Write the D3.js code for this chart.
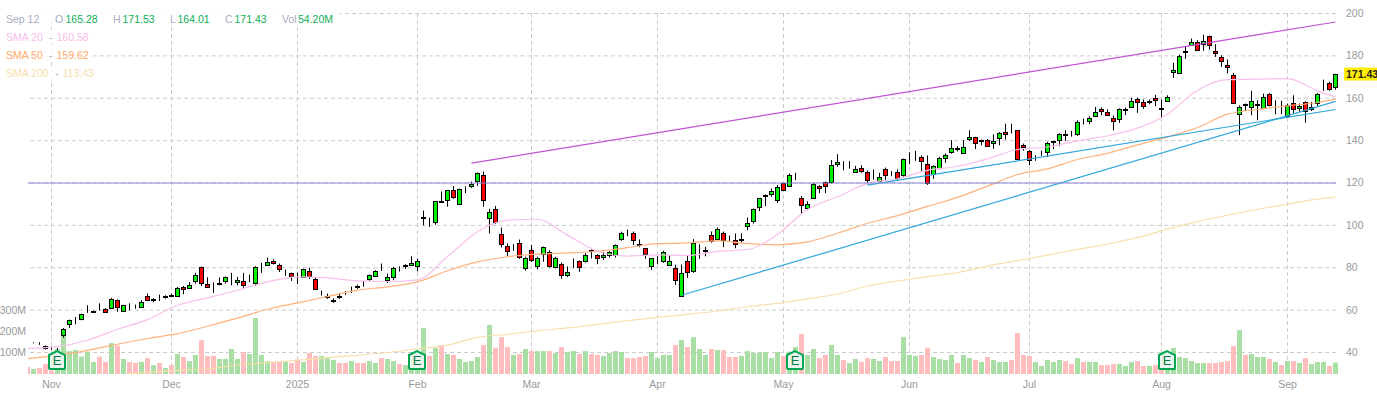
<!DOCTYPE html>
<html>
  <head>
    <meta charset="utf-8">
    <title>Sep 12 daily chart</title>
    <script src="https://cdn.jsdelivr.net/npm/d3@7"></script>
    <style>
      html, body { margin: 0; background: #fff; overflow: hidden; }
      svg { display: block; font-family: "Liberation Sans", Arial, sans-serif; font-size: 10.5px; }
      .axis text { fill: #999; font-size: 10.5px; font-family: "Liberation Sans", Arial, sans-serif; }
      .grid line { stroke: #ccc; stroke-dasharray: 4 3; }
      .axis .domain { display: none; }
    </style>
  </head>

  <body>
    <svg id="chart" width="1377" height="394"></svg>

    <script>
      // daily bars, one entry per trading day, Oct 28 to Sep 12
      const open = [
        44.6,44.6,44.2,43,42.1,41.8,48,53.5,55.9,56,
        60.2,59.8,61.2,60.6,61,65,59.8,62.5,61.7,61.5,
        66.7,65.2,65.8,66.7,67.1,66.7,71.1,70.5,73.5,80.5,
        72.2,73,72.4,73.9,74.9,73.3,73.9,73.8,73,81.3,
        81.3,83.1,81.3,77.6,77.3,75.7,75.7,78.7,74.7,68.3,
        66.7,64.7,66.2,68.1,69.2,71.1,73,74.9,76.3,78.7,
        74.1,75.8,79.8,80.7,81.5,80.7,103.8,102,101.2,111.2,
        111.9,116.5,110.5,117.9,118.4,120.9,124,103.1,107.5,95.7,
        90.5,89.1,91.9,80.1,88.6,80.8,86.7,87.2,80.6,82,
        76.2,82.8,83,83.4,87.8,85.8,84.8,85.6,86.3,93.8,
        96.8,96.2,91,89.1,80.6,84.5,82.8,81.4,80.1,66.7,
        83,78.6,88.6,88.1,95.5,93.6,96.2,94.4,92.9,93.4,
        99.3,101.7,108.3,114,114.6,112.2,119.8,118.8,123.9,112.7,
        108.3,112.5,118.8,120.7,120.2,129.2,128.4,129.5,124.8,127.3,
        125,122,121.2,126.7,124,125.4,124,131.9,132.8,132.5,
        129.2,124,127.3,131.4,134.2,135.9,134.2,140.4,141.5,139.7,
        140.5,139,141.3,144.3,144.8,144.8,137.7,135.3,131.6,134.2,
        134.7,139.2,139.9,142.8,142.1,143.2,149,149.3,151.8,154.7,
        153.7,150.9,150,154.5,156,159.7,158.3,158.1,159.9,154.8,
        158.8,172.1,171.7,181.7,185.2,186.6,185.4,189.3,182.5,179.7,
        175.6,171.2,152.8,156.7,155.5,156.8,155.5,162.2,159,157.5,
        151.7,157.8,155.2,158,155.2,157.7,166.5,167.3,165.28
      ];
      const high = [
        44.8,44.8,44.8,43.3,42.7,42.2,51.6,55.5,56.8,58.3,
        62.3,59.8,63.2,61,65.8,65.1,62.5,63.2,62.6,64.7,
        67.8,65.6,67.3,67,67.8,71,71.4,73.2,77.6,80.6,
        75.5,73.1,75.4,75.9,77.6,75.7,77.6,76.8,80.7,82.3,
        84.8,83.9,82,79.1,77.7,77.7,79.6,80,75.2,69.2,
        67.8,65.6,68.1,68.9,71.1,72,73.8,76.8,78.8,82,
        77.3,80.4,80.7,81.7,85.4,84.3,107,103.6,111.4,116,
        116.5,118.5,117.4,118.4,120.7,125,125.4,107.8,109.1,99,
        91.5,91.1,93.3,85.2,90.7,85.2,90,88.3,85.2,82.5,
        80.6,84.4,83.4,86.9,88.6,86.4,87.5,87.8,91,97,
        98,97.1,93.3,89.4,84.4,85.5,88,85.8,81.4,81.5,
        85.8,93.5,91.1,89.9,97.1,99,97.1,95.2,96.2,96.3,
        103.7,108,112.7,114.6,117.4,119,120,124.5,124.8,113.8,
        111.4,120,119,120.7,130.8,133.6,130.3,130.3,128.1,128.4,
        125.9,126.4,124.8,127.3,125.6,126.4,131.5,134.5,135.2,133.1,
        133,128.4,132.3,133.9,140.2,137.4,140.2,144.9,141.8,140.5,
        140.8,142.9,144,148,148,144.9,138.6,135.5,133.1,135.3,
        139.4,139.5,143.4,144.9,144.6,149.6,150.4,151.5,155.9,155.6,
        154.7,151.8,155.2,155.6,160.3,160.3,159.4,159.4,161.6,159.4,
        161.4,176.7,180.6,184.6,188.2,187.4,190,189.6,185.5,180.3,
        178.3,172,156.6,157.5,163.5,159,162.2,162.5,159.1,158.8,
        157.5,161.4,157.5,158.6,158.3,162.5,168.8,167.8,171.53
      ];
      const low = [
        44.4,44.3,43.6,41.4,41.4,41.1,47,51.6,53.3,55.2,
        58.7,58.9,59.8,58.7,60.9,59.2,59.7,59.9,60.7,61.5,
        64.2,63.7,64.3,65.4,66.1,66.2,67.5,70,72.5,71.4,
        70.9,68.1,71.7,72.5,71.7,71.7,70.5,73.2,71.4,77.6,
        81.2,81.5,78,76.1,73.8,72.2,75.4,74.7,69.9,66.9,
        65.3,63.4,65.3,67.2,68.1,70,71,73.8,76,78.5,
        72.8,74.1,78.2,79.5,80.9,78.3,100,99.3,100.3,110.8,
        108.8,112.5,110,115.2,117.7,118.7,108.8,96.2,100.6,89.6,
        85.5,88,84.2,78.6,82.8,79.2,82.8,80.1,79.7,74.8,
        75.7,79.8,78.1,82.5,84.4,81.7,83.6,84.8,84.8,92.7,
        94.9,90.7,89.7,84.2,79,81.7,82.3,80.9,71.9,66.6,
        75.2,77.6,84.2,85.4,91.8,93,89.7,92.7,89.2,91.9,
        97.7,100.9,106.7,109.1,113.5,110.6,116.4,118.6,121.3,105.4,
        107.2,112.5,115.2,115.2,119.8,127.6,126,126.8,124.8,124.8,
        119.4,121.6,120.5,121,123.2,121.3,122.9,128.9,130.5,125.6,
        119.1,122,126.4,129.5,133.9,134.9,133.9,139.9,136,137.8,
        137,136.1,137.8,140.5,143.4,130.9,135.2,128.4,130.5,132.8,
        132.3,136,137.4,139.9,141.9,142.2,147.6,147.8,151.2,152,
        151.7,144.9,148.4,152,155.6,153.1,155,157.2,156.2,150.9,
        158.3,169.6,171.4,178.6,184.9,182.5,182.4,183,179.5,174.8,
        171.7,157.5,142.6,154,152,149.6,155.2,156.2,152.5,152.5,
        151.2,152.8,153.6,148.4,154,156.2,163.5,163.5,164.01
      ];
      const close = [
        44.5,44.5,44.2,41.9,42,41.7,51,55.5,55.9,58.2,
        60.2,59.3,61.2,59.2,65.4,61.5,62.5,62.5,61.7,64,
        64.8,64.7,65.8,66.2,66.6,70.6,70.2,71.7,76.5,73,
        71,73,73,75.8,74.9,74.4,72,73.8,80.4,81.3,
        82.6,82.3,79.5,77.6,75.7,75.7,79.5,76.3,70,68.3,
        66.3,64.3,66.8,68.1,69.2,71.5,73,76.8,78.7,78.7,
        75.4,80,79.8,81.1,82.4,83.2,103.4,102,111.3,111.6,
        116.5,113,117.4,117.9,119.3,124.6,112,106.1,101.5,90.8,
        88,89.1,85.3,84.8,83.9,84.4,90,80.6,84.7,76.8,
        77.8,82.8,80.1,86.1,88.2,84.2,85.8,87.2,90.8,96.6,
        96.8,92.9,90.6,86.3,84.4,84.5,87.2,83.4,74.4,77.6,
        77.6,91.7,88.6,88.5,92.7,98.5,92.7,94.4,90.8,93.8,
        100.9,107.5,112.7,114.4,116,118.3,116.5,124,123.9,109.2,
        110.3,119.3,117.7,118.7,128.4,130.1,128.4,129.5,126.4,125.9,
        121.2,122,123,123.8,124,122.4,131.5,131.9,132.8,130.5,
        120.4,127.8,132,133,136.3,136.3,137.2,141.5,138.5,140.1,
        137.7,140,143.5,143.4,144.8,130.9,136.6,131.1,131.6,134.2,
        139.1,139.6,142.9,143.2,142.1,149,149,150.9,153.7,153.7,
        152.2,149.5,154.7,154.9,158.8,158.3,156.4,158.5,158.8,155.2,
        160.7,173.1,179.8,182.1,186.6,182.8,186.8,185,181.6,177.8,
        174.5,157.8,156.1,157.1,158.5,157.2,160.8,156.9,159,157.5,
        157,155.2,156.2,153.9,156,162,166.5,164.6,171.43
      ];
      // volume in millions, with 1 for a green bar and 0 for a red one
      const volume = [
        33,24,28,47,16,118,179,108,113,82,
        105,57,82,57,146,134,71,57,52,57,
        75,42,52,28,42,94,80,61,90,160,
        85,85,71,71,118,71,104,94,264,90,
        61,57,61,57,52,68,57,99,85,85,
        75,66,52,52,61,52,52,61,52,75,
        71,61,47,42,45,100,217,85,123,137,
        94,90,71,57,61,80,137,231,123,174,
        127,90,94,118,108,108,108,108,99,127,
        104,108,94,108,94,90,85,99,108,104,
        75,75,80,85,104,75,90,90,137,160,
        127,174,118,90,118,113,113,80,80,85,
        108,99,99,104,75,104,85,105,127,189,
        90,118,75,90,137,90,66,52,71,57,
        75,71,61,80,61,61,174,90,85,90,
        123,80,71,66,90,52,90,75,66,57,
        80,66,57,57,66,193,90,85,57,38,
        66,57,66,61,47,75,57,57,57,42,
        42,47,47,38,57,61,38,38,42,50,
        100,123,80,75,61,52,52,52,52,57,
        61,132,207,90,94,80,80,71,57,42,
        61,61,52,75,47,57,57,38,54.2
      ];
      const volumeUp = [
        0,1,0,0,0,1,1,1,1,1,
        1,1,0,0,1,0,1,0,0,1,
        0,1,0,1,0,1,0,1,1,0,
        0,0,1,1,1,1,0,1,1,1,
        1,0,0,1,0,0,1,0,0,1,
        1,1,0,0,1,0,0,1,1,0,
        1,1,0,1,1,1,1,0,1,0,
        1,0,1,1,1,1,0,1,0,0,
        0,1,0,1,0,1,1,0,1,0,
        1,1,0,1,0,0,1,1,1,1,
        0,0,0,0,1,1,1,1,0,1,
        0,1,1,1,0,1,0,0,0,1,
        1,1,1,1,1,1,0,1,1,0,
        1,1,0,0,1,1,0,1,1,0,
        0,1,1,0,0,0,1,1,1,0,
        0,1,1,1,1,0,1,1,0,1,
        0,1,1,1,0,0,0,0,1,1,
        1,1,1,0,0,1,0,1,1,0,
        0,0,1,1,1,0,0,1,0,0,
        1,1,1,1,1,1,1,0,0,0,
        0,0,1,0,1,1,1,0,1,0,
        1,0,1,0,1,1,1,0,1
      ];

      // moving averages, read every fifth trading day
      const smaDays = [0,5,10,15,20,25,30,35,40,45,50,55,60,65,70,75,80,85,90,95,100,105,110,115,120,125,130,135,140,145,150,155,160,165,170,175,180,185,190,195,200,205,210,215,218];
      const sma20 = [41.9,42.8,45.8,51,55.5,62.3,65.8,69.4,73.3,75.7,75.2,73.8,73.5,74.3,85.3,97,102.5,102.9,95.4,87.8,85.5,86.1,85.8,87.7,88.6,95.8,107.5,113.5,119.8,122,126,127.9,131.4,135.8,137,139.9,142.3,145.9,152.5,163.8,168.8,169,169.3,163.5,160.58];
      const sma50 = [37.1,38.6,41,43.9,46.6,48.9,52.4,56.2,60.4,63.4,66.4,69.4,71,73.3,78.6,82.8,85.2,86.4,87,87.8,89.5,91.4,91.7,92.7,91.4,90.8,92.2,96.3,101,104.6,109,113.2,118.5,124,126.7,131.1,134,138,141.8,146.2,152.5,154.7,156.4,158,159.62];
      const sma200Days = smaDays.slice(3);
      const sma200 = [29.3,30.7,31.6,32.2,34.1,35.2,36.3,37.6,38.7,40,41.7,43.5,47.1,48.6,50.2,51.6,53.3,55,56.6,58,59.6,61.6,63.2,65.3,67.6,71.4,73.8,75.8,77.7,80.8,83.4,86,88.7,91.2,94.2,98.2,101.8,104.8,107.6,110,112.4,113.43];

      // drawn trend lines: start day, start price, end day, end price
      const purpleLine = [74, 129.4, 218, 196];
      const steepLine = [109, 67, 218, 158.5];
      const flatLine = [140, 119, 218, 154.7];
      const levelLine = 120;

      const priceTicks = [40, 60, 80, 100, 120, 140, 160, 180, 200];
      const volumeTicks = [100, 200, 300];
      const monthDays = [4, 24, 45, 65, 84, 105, 126, 147, 167, 189, 210];
      const monthLabels = ["Nov", "Dec", "2025", "Feb", "Mar", "Apr", "May", "Jun", "Jul", "Aug", "Sep"];
      const earningsDays = [5, 65, 128, 190];

      // scales
      const width = 1377;
      const left = 28;
      const right = 1336;
      const bottom = 374;
      const x = d3.scaleLinear().domain([0, 218]).range([27.5, 1335.5]);
      const y = d3.scaleLinear().domain([40, 200]).range([352.5, 13.5]);
      const v = d3.scaleLinear().domain([0, 300]).range([374, 310.4]);

      const chart = d3.select("#chart");

      chart.append("clipPath").attr("id", "plot")
        .append("rect")
          .attr("x", left)
          .attr("y", 0)
          .attr("width", width - left)
          .attr("height", bottom);

      // grid and axes
      const yAxis = d3.axisRight(y)
        .tickValues(priceTicks)
        .tickSize(-(right - left))
        .tickPadding(10)
        .offset(0);
      chart.append("g")
        .attr("class", "axis grid")
        .attr("transform", "translate(" + right + ",0)")
        .call(yAxis);

      const xAxis = d3.axisBottom(x)
        .tickValues(monthDays)
        .tickFormat(function(d, i) { return monthLabels[i]; })
        .tickSize(-361)
        .tickPadding(7)
        .offset(0);
      chart.append("g")
        .attr("class", "axis grid")
        .attr("transform", "translate(0," + bottom + ")")
        .call(xAxis);

      const vAxis = d3.axisLeft(v)
        .tickValues(volumeTicks)
        .tickFormat(function(d) { return d + "M"; })
        .tickSize(0)
        .tickPadding(2)
        .offset(0);
      chart.append("g")
        .attr("class", "axis")
        .attr("transform", "translate(" + left + ",0)")
        .call(vAxis);

      const plot = chart.append("g").attr("clip-path", "url(#plot)");

      // volume
      plot.append("g").selectAll("rect")
        .data(volume)
        .enter().append("rect")
          .attr("x", function(d, i) { return x(i) - 2.5; })
          .attr("y", function(d) { return v(d); })
          .attr("width", 5)
          .attr("height", function(d) { return bottom - v(d); })
          .attr("fill", function(d, i) { return volumeUp[i] ? "#a9dea4" : "#ffbdbd"; });

      // candles
      const candles = plot.append("g").selectAll("g")
        .data(d3.range(open.length))
        .enter().append("g");
      candles.append("line")
        .attr("x1", function(i) { return x(i); })
        .attr("x2", function(i) { return x(i); })
        .attr("y1", function(i) { return y(high[i]); })
        .attr("y2", function(i) { return y(low[i]); })
        .attr("stroke", "#000");
      candles.append("rect")
        .attr("x", function(i) { return x(i) - 2; })
        .attr("width", 4)
        .attr("y", function(i) { return Math.round(y(Math.max(open[i], close[i]))) + 0.5; })
        .attr("height", function(i) { return Math.round(Math.abs(y(open[i]) - y(close[i]))); })
        .attr("fill", function(i) { return close[i] >= open[i] ? "#00ee00" : "#ff0000"; })
        .attr("stroke", "#000");

      // moving averages
      function smaPath(days, values, colour) {
        const line = d3.line()
          .x(function(d, i) { return x(days[i]); })
          .y(function(d) { return y(d); })
          .curve(d3.curveMonotoneX);
        plot.append("path")
          .datum(values)
          .attr("d", line)
          .attr("fill", "none")
          .attr("stroke", colour)
          .attr("stroke-width", 1.2);
      }
      smaPath(sma200Days, sma200, "#f6e0ae");
      smaPath(smaDays, sma50, "#ffb27c");
      smaPath(smaDays, sma20, "#f8c0ea");

      // trend lines
      function trendLine(t, colour) {
        plot.append("line")
          .attr("x1", x(t[0]))
          .attr("y1", y(t[1]))
          .attr("x2", x(t[2]))
          .attr("y2", y(t[3]))
          .attr("stroke", colour)
          .attr("stroke-width", 1.2);
      }
      trendLine(purpleLine, "#bf55d2");
      trendLine(steepLine, "#2fa6dc");
      trendLine(flatLine, "#2fa6dc");
      plot.append("line")
        .attr("x1", left)
        .attr("x2", right)
        .attr("y1", y(levelLine))
        .attr("y2", y(levelLine))
        .attr("stroke", "#8585dc")
        .attr("stroke-width", 1.1);

      // earnings flags
      const flags = chart.append("g").selectAll("g")
        .data(earningsDays)
        .enter().append("g")
          .attr("transform", function(d) { return "translate(" + (x(d) - 0.5) + ",360)"; });
      flags.append("path")
        .attr("d", "M-8,-5 L0,-9 L8,-5 L8,8 Q8,9 7,9 L-7,9 Q-8,9 -8,8 Z")
        .attr("fill", "#e9f5ec")
        .attr("stroke", "#00a651")
        .attr("stroke-width", 2);
      flags.append("text")
        .attr("text-anchor", "middle")
        .attr("y", 5)
        .attr("fill", "#0a7a43")
        .style("font-size", "13px")
        .text("E");

      // last price tag
      const lastClose = close[close.length - 1];
      chart.append("rect")
        .attr("x", 1344)
        .attr("y", y(lastClose) - 6.5)
        .attr("width", 33)
        .attr("height", 13)
        .attr("fill", "#ffee00");
      chart.append("text")
        .attr("x", 1346)
        .attr("y", y(lastClose) + 4)
        .attr("fill", "#222")
        .style("font-weight", "bold")
        .style("font-size", "10.5px")
        .text(lastClose);

      // legend, over a thin white backing
      const legend = chart.append("g");
      const legendBacks = [[0, 12, 340, 14], [0, 30, 93, 14], [0, 48, 93, 14], [0, 66, 95, 14]];
      legend.selectAll("rect")
        .data(legendBacks)
        .enter().append("rect")
          .attr("x", function(d) { return d[0]; })
          .attr("y", function(d) { return d[1]; })
          .attr("width", function(d) { return d[2]; })
          .attr("height", function(d) { return d[3]; })
          .attr("fill", "#fff")
          .attr("fill-opacity", 0.85);
      const legendTexts = [
        ["Sep 12", 6, 23, "#a9adc2"],
        ["O", 55, 23, "#a9adc2"], ["165.28", 65.5, 23, "#0cae55"],
        ["H", 113, 23, "#a9adc2"], ["171.53", 122.5, 23, "#0cae55"],
        ["L", 170, 23, "#a9adc2"], ["164.01", 177.5, 23, "#0cae55"],
        ["C", 225, 23, "#a9adc2"], ["171.43", 234.5, 23, "#0cae55"],
        ["Vol", 282, 23, "#a9adc2"], ["54.20M", 298, 23, "#0cae55"],
        ["SMA 20", 6, 41, "#f8bdea"], ["-", 49, 41, "#a9adc2"], ["160.58", 56.5, 41, "#f8bdea"],
        ["SMA 50", 6, 59, "#ffa868"], ["-", 49, 59, "#a9adc2"], ["159.62", 56.5, 59, "#ffa868"],
        ["SMA 200", 6, 77, "#f5e0ac"], ["-", 55, 77, "#a9adc2"], ["113.43", 62.5, 77, "#f5e0ac"]
      ];
      legend.selectAll("text")
        .data(legendTexts)
        .enter().append("text")
          .attr("x", function(d) { return d[1]; })
          .attr("y", function(d) { return d[2]; })
          .attr("fill", function(d) { return d[3]; })
          .text(function(d) { return d[0]; });
    </script>
  </body>
</html>
